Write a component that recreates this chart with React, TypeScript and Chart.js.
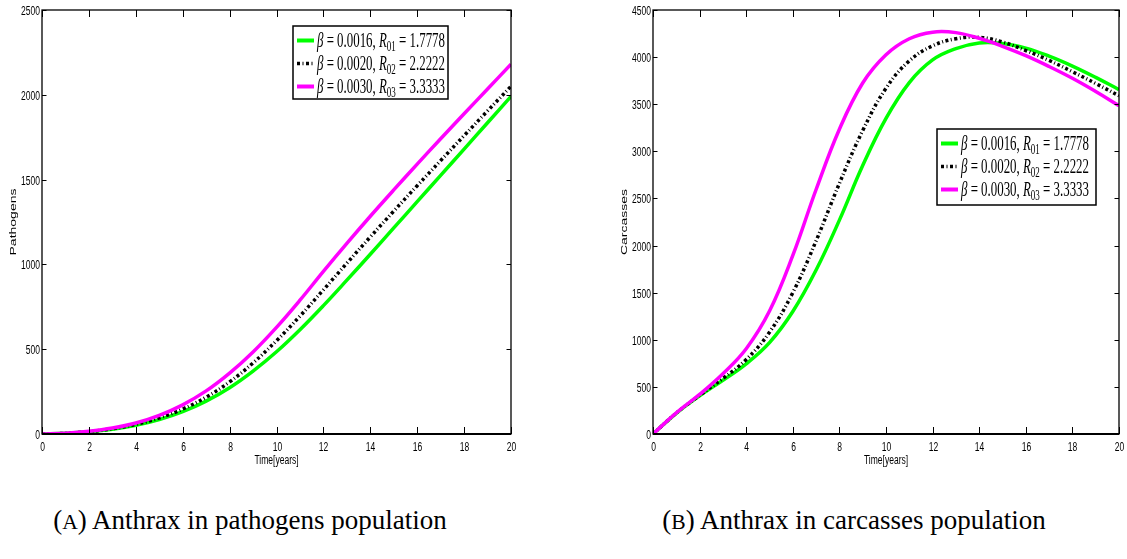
import React, { useEffect, useRef } from 'react';
import { Chart, registerables } from 'chart.js';

Chart.register(...registerables);

// ---------- data ----------
const years = [0, 1, 2, 3, 4, 5, 6, 7, 8, 9, 10, 11, 12, 13, 14, 15, 16, 17, 18, 19, 20];

const pathogensBeta16 = [0, 4, 13, 28, 51, 85, 132, 194, 273, 371, 485, 615, 757, 907, 1060, 1215, 1370, 1525, 1680, 1835, 1990];
const pathogensBeta20 = [0, 4, 14, 31, 57, 95, 147, 217, 307, 419, 550, 695, 850, 1007, 1162, 1314, 1464, 1612, 1759, 1905, 2050];
const pathogensBeta30 = [0, 5, 16, 35, 65, 110, 172, 254, 359, 484, 629, 789, 959, 1124, 1284, 1439, 1591, 1741, 1888, 2034, 2180];

const carcassesBeta16 = [0, 220, 405, 570, 745, 970, 1300, 1740, 2270, 2850, 3350, 3730, 3970, 4090, 4150, 4145, 4095, 4010, 3905, 3785, 3655];
const carcassesBeta20 = [0, 222, 410, 590, 790, 1080, 1500, 2050, 2660, 3220, 3670, 3960, 4120, 4195, 4210, 4160, 4070, 3965, 3845, 3720, 3590];
const carcassesBeta30 = [0, 225, 420, 640, 905, 1305, 1895, 2595, 3235, 3725, 4025, 4195, 4265, 4260, 4200, 4115, 4015, 3900, 3775, 3635, 3485];

const legendBetas = ['0.0016', '0.0020', '0.0030'];
const legendSubs = ['01', '02', '03'];
const legendR0 = ['1.7778', '2.2222', '3.3333'];
const seriesColors = ['#00ff00', '#000000', '#ff00ff'];

const xTickStep = 2;
const yTickStep = 500;
const pathogensMax = 2500;
const carcassesMax = 4500;
const xMax = 20;

// ---------- styling ----------
const SQUISH = 0.71;
const TICK_FONT = '12px "Liberation Sans", Arial, Helvetica, sans-serif';
const TITLE_FONT = '14px "Liberation Sans", Arial, Helvetica, sans-serif';
const LEGEND_FONT_SIZE = 20;
const SERIF = '"Liberation Serif", "Times New Roman", serif';
const DASH = [3, 2.5, 1, 2.5];

function drawSquished(ctx: CanvasRenderingContext2D, text: string, x: number, y: number, align: CanvasTextAlign, font: string, sx: number) {
  ctx.save();
  ctx.translate(x, y);
  ctx.scale(sx, 1);
  ctx.font = font;
  ctx.textAlign = align;
  ctx.textBaseline = 'alphabetic';
  ctx.fillStyle = '#000';
  ctx.fillText(text, 0, 0);
  ctx.restore();
}

function drawMathLabel(ctx: CanvasRenderingContext2D, x: number, baseline: number, i: number, targetWidth: number) {
  const regular = `${LEGEND_FONT_SIZE}px ${SERIF}`;
  const italic = `italic ${LEGEND_FONT_SIZE}px ${SERIF}`;
  const sub = `${Math.round(LEGEND_FONT_SIZE * 0.68)}px ${SERIF}`;
  const segs = [
    { t: '\u03B2', f: italic, dy: 0 },
    { t: ` = ${legendBetas[i]}, `, f: regular, dy: 0 },
    { t: 'R', f: italic, dy: 0 },
    { t: legendSubs[i], f: sub, dy: 4 },
    { t: ` = ${legendR0[i]}`, f: regular, dy: 0 },
  ];
  let total = 0;
  segs.forEach(s => { ctx.font = s.f; total += ctx.measureText(s.t).width; });
  const sx = targetWidth / total;
  ctx.save();
  ctx.translate(x, baseline);
  ctx.scale(sx, 1);
  ctx.fillStyle = '#000';
  ctx.textAlign = 'left';
  ctx.textBaseline = 'alphabetic';
  let cx = 0;
  segs.forEach(s => {
    ctx.font = s.f;
    ctx.fillText(s.t, cx, s.dy);
    cx += ctx.measureText(s.t).width;
  });
  ctx.restore();
}

type LegendBox = { x: number; y: number; w: number; h: number };

function drawLegend(ctx: CanvasRenderingContext2D, b: LegendBox) {
  ctx.save();
  ctx.fillStyle = '#fff';
  ctx.fillRect(b.x, b.y, b.w, b.h);
  ctx.strokeStyle = '#000';
  ctx.lineWidth = 1.5;
  ctx.setLineDash([]);
  ctx.strokeRect(b.x, b.y, b.w, b.h);
  for (let i = 0; i < 3; i++) {
    const cy = b.y + 14.5 + i * 23;
    ctx.beginPath();
    ctx.setLineDash(i === 1 ? DASH : []);
    ctx.strokeStyle = seriesColors[i];
    ctx.lineWidth = i === 1 ? 3.5 : 4;
    ctx.moveTo(b.x + 4, cy);
    ctx.lineTo(b.x + 21, cy);
    ctx.stroke();
    ctx.setLineDash([]);
    drawMathLabel(ctx, b.x + 24, cy + 6.6, i, 128);
  }
  ctx.restore();
}

function makeFramePlugin(yTitle: string, legend: LegendBox) {
  return {
    id: 'matlabFrame',
    afterDraw(chart: any) {
      const ctx: CanvasRenderingContext2D = chart.ctx;
      const a = chart.chartArea;
      const xs = chart.scales.x;
      const ys = chart.scales.y;
      ctx.save();
      ctx.setLineDash([]);
      ctx.strokeStyle = '#000';
      ctx.lineWidth = 1.3;
      ctx.strokeRect(a.left, a.top, a.right - a.left, a.bottom - a.top);
      ctx.lineWidth = 2.2;
      ctx.beginPath();
      ctx.moveTo(a.left, a.bottom);
      ctx.lineTo(a.right, a.bottom);
      ctx.stroke();
      ctx.lineWidth = 1;
      xs.ticks.forEach((t: any) => {
        const px = Math.round(xs.getPixelForValue(t.value)) + 0.5;
        ctx.beginPath();
        ctx.moveTo(px, a.bottom);
        ctx.lineTo(px, a.bottom - 7);
        ctx.moveTo(px, a.top);
        ctx.lineTo(px, a.top + 7);
        ctx.stroke();
        drawSquished(ctx, String(t.value), px, a.bottom + 16.5, 'center', TICK_FONT, SQUISH);
      });
      ys.ticks.forEach((t: any) => {
        const py = Math.round(ys.getPixelForValue(t.value)) + 0.5;
        ctx.beginPath();
        ctx.moveTo(a.left, py);
        ctx.lineTo(a.left + 4.5, py);
        ctx.moveTo(a.right, py);
        ctx.lineTo(a.right - 4.5, py);
        ctx.stroke();
        drawSquished(ctx, String(t.value), a.left - 2, py + 4.3, 'right', TICK_FONT, SQUISH);
      });
      drawSquished(ctx, 'Time[years]', (a.left + a.right) / 2, a.bottom + 30, 'center', TICK_FONT, SQUISH);
      ctx.save();
      ctx.translate(a.left - 29, (a.top + a.bottom) / 2);
      ctx.rotate(-Math.PI / 2);
      ctx.scale(1, SQUISH);
      ctx.font = TITLE_FONT;
      ctx.fillStyle = '#000';
      ctx.textAlign = 'center';
      ctx.textBaseline = 'middle';
      ctx.fillText(yTitle, 0, 0);
      ctx.restore();
      drawLegend(ctx, legend);
      ctx.restore();
    },
  };
}

type PanelProps = {
  left: number;
  width: number;
  height: number;
  yAxisWidth: number;
  padRight: number;
  yMax: number;
  yTitle: string;
  series: number[][];
  legend: LegendBox;
};

function Panel(p: PanelProps) {
  const ref = useRef<HTMLCanvasElement | null>(null);
  useEffect(() => {
    if (!ref.current) return;
    const labels = ['\u03B2 = 0.0016, R01 = 1.7778', '\u03B2 = 0.0020, R02 = 2.2222', '\u03B2 = 0.0030, R03 = 3.3333'];
    const datasets = p.series.map((vals, i) => ({
      label: labels[i],
      data: years.map((x, k) => ({ x, y: vals[k] })),
      borderColor: seriesColors[i],
      backgroundColor: seriesColors[i],
      borderWidth: 3.5,
      borderDash: i === 1 ? DASH : [],
      borderCapStyle: 'butt' as const,
      pointRadius: 0,
      fill: false,
      tension: 0.4,
      order: 3 - i,
    }));
    const chart = new Chart(ref.current, {
      type: 'line',
      data: { datasets },
      options: {
        responsive: false,
        animation: false,
        devicePixelRatio: 1,
        layout: { padding: { left: 0, right: p.padRight, top: 10, bottom: 0 } },
        plugins: { legend: { display: false }, tooltip: { enabled: false } },
        scales: {
          x: {
            type: 'linear',
            min: 0,
            max: xMax,
            ticks: { display: false, stepSize: xTickStep },
            grid: { display: false, drawTicks: false },
            border: { display: false },
            afterFit: (s: any) => { s.height = 46; },
          },
          y: {
            type: 'linear',
            min: 0,
            max: p.yMax,
            ticks: { display: false, stepSize: yTickStep },
            grid: { display: false, drawTicks: false },
            border: { display: false },
            afterFit: (s: any) => { s.width = p.yAxisWidth; },
          },
        },
      },
      plugins: [makeFramePlugin(p.yTitle, p.legend)],
    } as any);
    return () => chart.destroy();
  }, []);
  return (
    <canvas
      ref={ref}
      width={p.width}
      height={p.height}
      style={{ position: 'absolute', left: p.left, top: 0, width: p.width, height: p.height }}
    />
  );
}

const captionStyle: React.CSSProperties = {
  position: 'absolute',
  top: 503,
  height: 34,
  lineHeight: '34px',
  textAlign: 'center',
  fontFamily: SERIF,
  fontSize: 27,
  color: '#000',
  whiteSpace: 'nowrap',
};

export default function App() {
  return (
    <div style={{ position: 'absolute', left: 0, top: 0, width: 1127, height: 559, background: '#fff', overflow: 'hidden' }}>
      <Panel
        left={0}
        width={560}
        height={480}
        yAxisWidth={42}
        padRight={49}
        yMax={pathogensMax}
        yTitle="Pathogens"
        series={[pathogensBeta16, pathogensBeta20, pathogensBeta30]}
        legend={{ x: 293, y: 26, w: 155, h: 73 }}
      />
      <Panel
        left={560}
        width={567}
        height={480}
        yAxisWidth={93}
        padRight={8}
        yMax={carcassesMax}
        yTitle="Carcasses"
        series={[carcassesBeta16, carcassesBeta20, carcassesBeta30]}
        legend={{ x: 377, y: 129, w: 159, h: 76 }}
      />
      <div style={{ ...captionStyle, left: 0, width: 500 }}>
        (<span style={{ fontSize: '0.8em' }}>A</span>) Anthrax in pathogens population
      </div>
      <div style={{ ...captionStyle, left: 598, width: 512 }}>
        (<span style={{ fontSize: '0.8em' }}>B</span>) Anthrax in carcasses population
      </div>
    </div>
  );
}
